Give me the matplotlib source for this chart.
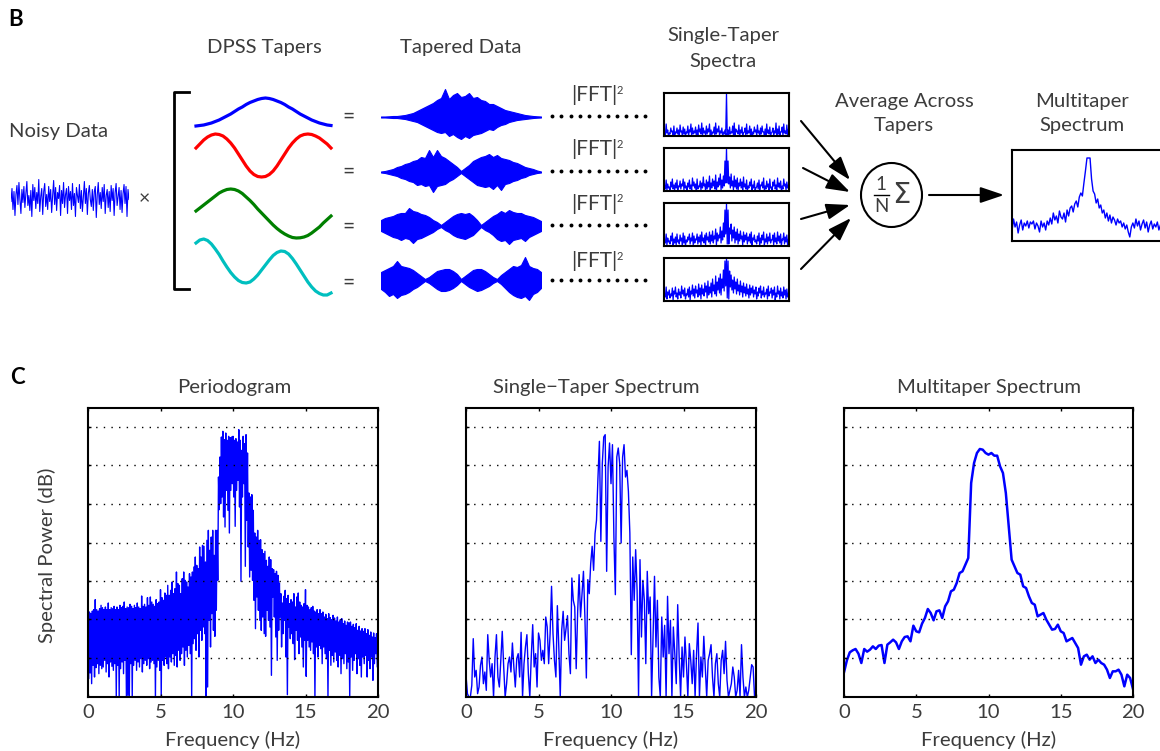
import numpy as np
import matplotlib
matplotlib.use("Agg")
import matplotlib.pyplot as plt
from matplotlib.patches import Ellipse

plt.rcParams['font.family'] = ['Lato', 'DejaVu Sans']
W, H = 1160, 751
TXT = '#3c3c3c'

# ---- data (power on an arbitrary scale, 115.5 units = one grid step)
per_top = [250,255,250,258,262,292,262,258,265,275,
           268,262,270,262,282,262,268,265,272,262,
           270,262,275,268,272,285,265,270,268,278,
           272,265,275,268,282,270,265,303,272,278,
           270,298,275,300,285,278,272,292,280,285,
           322,298,290,312,305,335,305,320,345,310,
           325,375,340,335,310,355,375,350,345,330,
           370,360,375,390,420,395,385,450,420,455,
           452,405,470,500,440,480,500,425,500,500,
           660,720,780,797,772,792,770,782,778,780,
           782,770,775,765,802,770,740,782,760,787,
           732,612,600,607,560,492,480,500,470,472,
           442,430,437,410,392,420,412,385,382,370,
           377,365,342,310,282,302,320,295,305,280,
           292,285,310,270,300,312,285,275,270,280,
           322,275,270,262,268,272,258,255,262,250,
           262,250,255,240,248,235,250,238,232,245,
           237,228,240,225,232,235,220,228,215,225,
           222,225,212,218,208,220,200,212,198,205,
           197,205,190,202,185,195,180,192,178,190,182]
per_bot = [55,72,40,95,60,88,100,70,95,85,
           90,110,75,100,60,105,92,80,100,0,
           95,0,85,105,70,110,0,5,0,100,
           0,95,110,80,105,90,115,75,100,110,
           95,115,85,105,110,100,0,90,110,80,
           0,110,95,120,100,85,120,105,130,95,
           125,90,140,110,130,150,95,140,120,155,
           130,0,160,175,140,190,120,200,170,210,
           190,0,30,230,150,250,200,182,260,350,
           562,580,600,540,510,620,560,492,620,640,
           600,512,620,650,570,347,600,640,392,530,
           450,360,380,350,290,205,300,260,230,200,
           240,190,182,260,230,210,65,300,240,180,
           110,200,240,150,190,230,120,7,210,175,
           190,160,112,200,170,130,180,150,90,170,
           62,170,150,140,165,130,0,150,120,155,
           145,100,150,130,115,0,140,95,125,105,
           135,110,90,125,70,115,100,130,85,105,
           0,120,80,110,130,70,115,95,60,120,
           100,125,60,110,85,120,50,100,130,90,100]
single_power = [65,10,0,0,35,175,60,80,10,30,
                95,120,40,75,20,187,110,60,100,0,
                120,187,60,30,110,197,90,0,40,100,
                120,75,162,90,30,115,130,60,194,0,
                100,150,187,70,0,120,217,90,130,30,
                192,170,110,140,100,240,210,100,190,332,
                190,110,60,274,150,0,200,257,170,205,
                244,130,70,357,290,270,85,255,367,240,
                310,377,240,57,352,310,400,452,380,490,
                530,657,767,467,700,780,787,377,690,762,
                640,757,480,307,720,747,700,462,720,757,
                660,680,617,492,127,420,290,442,320,0,
                412,180,350,290,100,377,250,300,0,180,
                362,150,290,60,0,240,120,215,0,302,
                130,230,0,210,130,40,277,120,0,150,
                60,180,100,0,160,110,40,140,0,130,
                222,0,120,60,182,90,0,110,130,157,
                60,0,100,130,40,0,110,140,70,167,
                50,0,20,40,90,60,0,20,80,0,
                157,60,0,30,0,20,60,97,90,0,0]
multi_power = [74,110,134,140,144,130,102,144,136,142,152,144,154,156,102,157,164,172,164,144,
               167,180,182,167,214,197,194,220,237,264,252,230,257,260,237,272,287,317,322,342,
               372,377,397,417,642,702,732,744,742,732,727,732,724,724,692,672,612,512,412,392,
               372,367,332,327,302,282,277,242,247,252,232,217,202,204,217,197,192,167,172,177,
               162,147,97,122,127,112,122,102,112,102,97,82,57,77,77,82,67,32,67,57,24]
noisy_data = [-4,9,-12,6,-18,3,12,-7,15,-2,-16,8,-5,11,-10,4,16,-8,2,-13,7,-19,13,-3,10,-11,5,-6,18,-14,
              1,9,-17,6,14,-9,3,-12,11,-4,8,-15,2,17,-7,10,-13,5,-1,12,-18,7,-6,15,-10,3,9,-16,11,-3,
              6,-12,14,-8,4,-19,10,2,-5,13,-11,7,-14,1,16,-6,9,-17,4,12,-2,-9,8,-13,6,11,-20,3,15,-7,
              5,-11,10,-4,13,-16,2,8,-10,6,-14,12,-3,9,-18,5,14,-8,1,10,-12,7,-15,4,13,-6,11,-19,8,-2]
taper_blue = [2,2.5,3,4,5,6.5,8,10,12,14,16.5,19,21,23.5,25.5,27,28.5,29.5,30,
              29.5,28.5,27,25.5,23.5,21,19,16.5,14,12,10,8,6.5,5,4,3,2.5]
taper_red = [32,36,40,43,45,46,45.5,44,41,37,32,26,20,14,9,5.5,3.5,3,3.5,5.5,9,14,20,26,32,37,41,44,45.5,46,45.5,44,42,39,36,32]
taper_green = [29,32,35,38,41,44,47,49,50.5,51,50.5,49,46.5,43,39.5,35.5,31,27,23,19,15,11.5,8.5,6,4,2.5,2,2.2,3,4.5,7,10,13,17,20.5,24]
taper_cyan = [55,58,59,57.5,54,49,43.5,37,31,25.5,21,17.5,15.5,15,16,19,23,28,33,38,42.5,45.5,47,46.5,44,39.5,34,28,22,16,11,7,4.5,3,3,5]
tapered1_top = [.5,.5,.7,1,1,1.5,2,3,4,6,8,10,12,14,17,19,28,18,22,24,20,21,24,19,20,17,16,13,13,11,9,7,6,5,4,3,2,1.5,1,.7,.5]
tapered1_bot = [.5,.5,.7,1,1,1.5,2,3,4,5,7,9,11,13,15,16,15,19,17,20,22,19,21,18,17,16,14,12,13,10,8,7,5,4,3,2.5,2,1.5,1,.7,.5]
tapered2_top = [.5,1,2,3,5,6,8,9,11,12,15,14,22,15,22,16,14,11,8,5,1,4,7,11,13,15,16,18,15,17,14,13,12,10,9,7,5,4,3,1.5,.5]
tapered2_bot = [.5,1,2,3,4,6,7,9,10,13,12,14,13,20,14,13,12,9,7,4,1,4,7,10,13,14,15,14,17,13,18,12,11,9,8,6,5,3,2,1,.5]
tapered3_top = [6,8,9,10,12,13,13,18,15,14,12,11,9,6,4,1,4,7,10,12,13,12,13,10,6,1,4,7,10,12,15,13,16,14,13,13,11,10,9,7,5]
tapered3_bot = [5,7,9,11,12,14,12,13,17,13,12,10,8,6,3,1,4,6,9,11,12,13,11,9,5,1,4,6,9,13,15,14,18,14,13,12,15,11,9,7,5]
tapered4_top = [8,10,12,14,19,14,13,12,10,7,4,1,3,6,9,10,11,11,9,6,1,4,7,10,11,11,9,6,3,1,5,8,11,14,13,15,23,14,12,11,8]
tapered4_bot = [9,12,16,14,18,15,14,12,9,7,4,1,3,6,9,11,11,10,8,5,1,4,7,9,11,10,8,6,3,1,4,8,12,15,17,18,16,20,14,12,8]
mini1 = [2,12,6,3,8,5,10,4,8,6,11,5,9,7,4,10,6,12,8,5,9,6,11,7,13,8,5,10,7,12,6,4,9,13,7,10,5,8,4,6,43,
         6,9,4,10,13,7,5,11,6,9,3,8,12,5,10,7,4,9,6,11,5,8,10,4,7,12,6,9,3,8,5,13,7,10,4,9,12,5,11,7]
mini2 = [5,11,7,4,9,12,6,8,11,5,10,7,12,9,5,8,11,6,13,9,7,12,5,10,8,14,7,11,9,15,8,12,10,16,9,13,17,11,15,30,43,
         30,14,17,10,15,11,13,8,12,9,14,7,11,5,9,12,6,10,3,8,11,6,9,13,5,10,7,12,4,9,11,6,13,8,10,5,12,7,9,6]
mini3 = [4,12,8,5,10,13,7,9,12,6,11,8,13,10,6,9,12,8,13,10,7,12,9,11,14,8,11,13,9,14,11,15,10,17,13,11,19,15,23,36,43,
         36,18,22,16,19,14,17,12,15,10,14,11,13,9,12,14,8,11,6,10,13,8,11,14,7,12,9,13,6,11,13,8,14,10,12,7,13,9,11,7]
mini4 = [6,14,9,11,7,13,10,14,8,12,9,15,11,13,7,12,14,10,16,12,15,11,17,13,16,12,18,15,20,14,18,22,16,25,19,23,27,22,31,40,43,
         40,30,26,21,24,19,22,16,20,15,18,14,17,12,16,13,15,11,14,9,13,15,10,14,8,12,15,9,13,11,14,8,15,10,13,9,14,11,12,8]
mini1_low = [1,3,0,2,4,1,0,3,2,0,4,1,2,0,3,1,4,0,2,3,0,1,4,2,0,3,1,2,4,0,1,3,0,2,4,1,3,0,2,1,1,
             0,2,3,1,0,4,2,0,3,1,4,0,2,3,1,0,2,4,1,3,0,2,4,1,0,3,2,0,4,1,3,0,2,1,4,0,3,2,1,0]
mini2_low = [2,1,3,0,4,2,1,3,0,4,2,5,1,3,0,4,2,1,5,3,0,2,4,1,3,5,0,2,4,1,3,5,2,0,4,6,1,3,5,8,8,
             7,3,5,1,4,2,0,5,3,1,4,2,0,3,5,1,3,0,4,2,1,5,3,0,2,4,1,3,0,5,2,1,4,3,0,2,5,1,3,2]
mini3_low = [3,1,4,2,5,0,3,1,4,2,5,1,3,0,4,6,2,5,1,3,6,2,4,0,5,3,1,6,4,2,5,3,7,1,5,8,3,6,9,12,2,
             2,12,5,8,3,6,2,5,7,1,4,6,2,5,3,1,6,4,2,5,0,3,6,1,4,2,5,3,6,1,4,2,5,3,0,6,2,4,1,3]
mini4_low = [4,2,6,3,5,1,7,4,2,6,3,7,5,2,6,4,1,7,5,3,8,4,6,2,7,5,9,3,6,8,4,10,7,5,11,8,6,13,10,15,3,
             2,14,11,8,12,7,10,6,9,4,8,5,7,3,6,8,4,7,2,5,8,3,6,4,7,2,5,8,3,6,1,4,7,2,5,3,6,2,4,1]
mini_multi = [10,22,14,19,8,16,21,11,18,15,20,13,19,17,20,12,18,15,9,20,14,18,11,20,16,23,17,28,21,25,18,30,24,22,28,19,31,25,33,35,
              29,37,40,34,44,48,45,58,70,83,83,83,62,50,47,38,42,33,36,28,31,23,28,20,26,18,24,21,16,22,18,20,14,18,12,16,9,4,14,18,
              13,22,15,20,11,17,21,13,19,9,16,20,12,17,14,19,11,16,20,13,18]
xticks_hz = [0, 5, 10, 15, 20]
grid_levels = [117, 233, 348, 463, 579, 695, 810]

fig = plt.figure(figsize=(W/100, H/100), dpi=100)
fig.patch.set_facecolor('white')

def sub(l, t, r, b, **kw):
    return fig.add_axes([l/W, 1-b/H, (r-l)/W, (b-t)/H], **kw)

BLUE = (0, 0, 1)
FS = 14.6

# ---- overlay, in pixel coordinates, for text and decoration
ov = fig.add_axes([0, 0, 1, 1], zorder=5)
ov.set_xlim(0, W); ov.set_ylim(H, 0); ov.axis('off'); ov.patch.set_alpha(0)

def T(x, y, s, size=FS, **kw):
    kw.setdefault('ha', 'center'); kw.setdefault('va', 'center'); kw.setdefault('color', TXT)
    ov.text(x, y, s, fontsize=size, **kw)

T(16, 20, 'B', 16, fontweight='bold', color='black')
T(17, 378, 'C', 16, fontweight='bold', color='black')
T(59, 132, 'Noisy Data')
T(264, 48, 'DPSS Tapers')
T(461, 48, 'Tapered Data')
T(723, 36, 'Single-Taper')
T(723, 61, 'Spectra')
T(904, 102, 'Average Across')
T(904, 126, 'Tapers')
T(1082, 102, 'Multitaper')
T(1082, 126, 'Spectrum')
T(144, 199, '×', 14)
for yy in (117, 172, 227, 283):
    T(349, yy, '=', 15)
for yy in (95, 149, 204, 261):
    T(594, yy, '|FFT|', 15)
    T(620, yy-5, '2', 8)
for yy in (116, 171, 225, 280):
    ov.plot(np.linspace(552, 645, 11), [yy]*11, 'o', color='black', ms=2.8, mew=0)
ov.plot([189, 174, 174, 189], [92, 92, 289, 289], color='black', lw=2)
for p0, p1 in [((801, 121), (850, 180)), ((803, 168), (850, 192)), ((801, 219), (850, 205)),
               ((801, 269), (851, 218)), ((929, 195), (1004, 195))]:
    ov.annotate('', xy=p1, xytext=p0,
                arrowprops=dict(arrowstyle='-|>,head_length=0.8,head_width=0.27', color='black', lw=1.5,
                                mutation_scale=18, shrinkA=0, shrinkB=0))
ov.add_patch(Ellipse((891.5, 195), 61, 64, fc='white', ec='black', lw=1.5, zorder=3))
ov.plot([874, 889], [195, 195], color='black', lw=1, zorder=4)
ov.text(881, 184, '1', fontsize=13.5, ha='center', va='center', color=TXT, zorder=4)
ov.text(881, 207, 'N', fontsize=13.5, ha='center', va='center', color=TXT, zorder=4)
ov.text(901, 195, 'Σ', fontsize=21, ha='center', va='center', color=TXT, zorder=4, family=['DejaVu Sans'])

# ---- noisy data
ax = sub(11, 177, 129, 218); ax.axis('off')
ax.plot(np.arange(len(noisy_data)), noisy_data, color=BLUE, lw=0.8)
ax.set_xlim(0, len(noisy_data)-1); ax.set_ylim(-20.5, 20.5)

# ---- tapers
for series, colr, t, b in [(taper_blue, (0, 0, 1), 96, 128), (taper_red, (1, 0, 0), 132, 180),
                           (taper_green, (0, .5, 0), 186, 240), (taper_cyan, (0, .75, .75), 236, 298)]:
    ax = sub(196, t, 331, b); ax.axis('off'); ax.patch.set_alpha(0)
    ax.plot(np.linspace(0, 1, len(series)), series, color=colr, lw=2.3, clip_on=False)
    ax.set_xlim(0, 1); ax.set_ylim(0, b-t)

# ---- tapered data
for top, bot, cy in [(tapered1_top, tapered1_bot, 117), (tapered2_top, tapered2_bot, 172),
                     (tapered3_top, tapered3_bot, 226), (tapered4_top, tapered4_bot, 280)]:
    ax = sub(381, cy-30, 541, cy+30); ax.axis('off')
    x = np.linspace(0, 1, len(top))
    ax.fill_between(x, top, -np.array(bot), facecolor=BLUE, edgecolor=BLUE, lw=0.8)
    ax.set_xlim(0, 1); ax.set_ylim(-30, 30)

# ---- small spectra
for series, low, t, b in [(mini1, mini1_low, 93, 136), (mini2, mini2_low, 148, 191),
                          (mini3, mini3_low, 203, 246), (mini4, mini4_low, 258, 301)]:
    ax = sub(664, t, 789, b)
    fx = np.linspace(0, 20, len(series))
    xx = np.ravel(np.column_stack([fx, fx + 0.12]))
    yy = np.ravel(np.column_stack([series, low]))
    ax.plot(xx, yy, color=BLUE, lw=0.9)
    ax.set_xlim(-0.1, 20.1); ax.set_ylim(0, 43)
    ax.set_xticks([]); ax.set_yticks([])
    for s in ax.spines.values():
        s.set_linewidth(1.5)

ax = sub(1012, 150, 1165, 241)
ax.plot(np.arange(len(mini_multi))*0.2, mini_multi, color=BLUE, lw=1)
ax.set_xlim(0, 20); ax.set_ylim(0, 91)
ax.set_xticks([]); ax.set_yticks([])
for s in ax.spines.values():
    s.set_linewidth(1.5)

# ---- panel C
def panel(left, right, title, tx, ty):
    ax = sub(left, 408, right, 697)
    ax.set_xlim(0, 20); ax.set_ylim(0, 867)
    ax.set_xticks(xticks_hz); ax.set_yticks(grid_levels); ax.set_yticklabels([])
    ax.tick_params(direction='in', top=True, right=True, length=2.5, width=1,
                   labelsize=FS, labelcolor=TXT, pad=5)
    ax.yaxis.grid(True, color='black', lw=1, ls=(0, (1, 4.5)))
    ax.set_axisbelow(False)
    for s in ax.spines.values():
        s.set_linewidth(1.5)
    ax.set_xlabel('Frequency (Hz)', fontsize=FS, color=TXT, labelpad=7)
    T(tx, ty, title)
    return ax

a = panel(88, 378, 'Periodogram', 234, 387)
f = np.arange(len(per_top))*0.1
xx = np.ravel(np.column_stack([f, f+0.05]))
yy = np.ravel(np.column_stack([per_top, per_bot]))
keep = xx <= 20
a.plot(xx[keep], yy[keep], color=BLUE, lw=1)
T(47, 555, 'Spectral Power (dB)', rotation=90)

a = panel(466, 756, 'Single\u2212Taper Spectrum', 596, 387)
a.plot(np.arange(len(single_power))*0.1, single_power, color=BLUE, lw=1)

a = panel(844, 1133, 'Multitaper Spectrum', 989, 387)
a.plot(np.arange(len(multi_power))*0.2, multi_power, color=BLUE, lw=1.8)

fig.savefig('out.png', dpi=100)
